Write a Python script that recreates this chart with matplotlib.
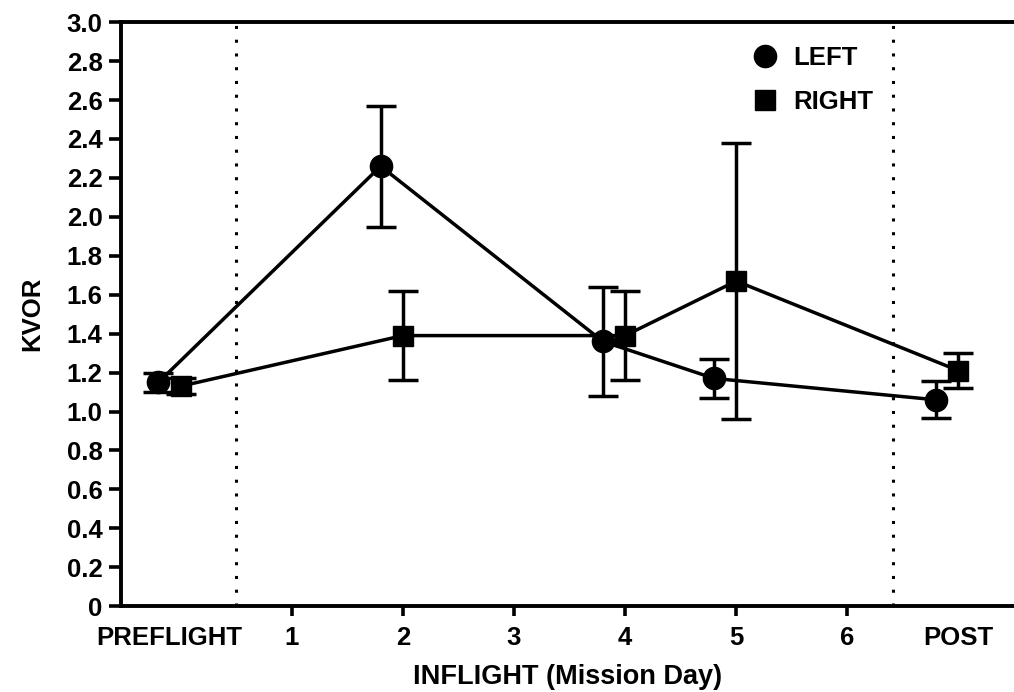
import matplotlib.pyplot as plt
import numpy as np

plt.rcParams['font.family'] = ['Liberation Sans', 'DejaVu Sans']
plt.rcParams['font.weight'] = 'bold'

# mission positions (preflight = 0, days 1-6, post = 7)
rightX = np.array([0, 2, 4, 5, 7])
leftX = rightX - 0.2

leftY = np.array([1.15, 2.26, 1.36, 1.17, 1.06])
leftErr = np.array([0.05, 0.31, 0.28, 0.10, 0.095])

rightY = np.array([1.13, 1.39, 1.39, 1.67, 1.21])
rightErr = np.array([0.04, 0.23, 0.23, 0.71, 0.09])

xTickPos = [-0.1, 1, 2, 3, 4, 5, 6, 7]
xTickLabels = ['PREFLIGHT', '1', '2', '3', '4', '5', '6', 'POST']
yTicks = np.arange(0, 3.01, 0.2)
yTickLabels = ['0'] + ['%.1f' % v for v in yTicks[1:]]

fig = plt.figure(figsize=(10.14, 6.92), dpi=100)
ax = fig.add_axes([0.119, 0.124, 0.881, 0.844])

ax.axvline(0.5, color='black', linestyle=(0, (1, 3.5)), linewidth=2.2)
ax.axvline(6.41, color='black', linestyle=(0, (1, 3.5)), linewidth=2.2)

ax.errorbar(leftX, leftY, yerr=leftErr, color='black', marker='o', markersize=16,
            linewidth=2.5, elinewidth=2.5, capsize=11, capthick=2.5, label='LEFT')
ax.errorbar(rightX, rightY, yerr=rightErr, color='black', marker='s', markersize=15,
            linewidth=2.5, elinewidth=2.5, capsize=11, capthick=2.5, label='RIGHT')

ax.set_xlim(-0.54, 7.5)
ax.set_ylim(0, 3.0)
ax.set_xticks(xTickPos)
ax.set_xticklabels(xTickLabels, fontsize=18.5, fontweight='bold')
ax.set_yticks(yTicks)
ax.set_yticklabels(yTickLabels, fontsize=18.5, fontweight='bold')
ax.tick_params(axis='y', direction='out', length=9, width=2.6, pad=4)
ax.tick_params(axis='x', direction='out', length=7, width=2.6, pad=7)
ticks = ax.xaxis.get_major_ticks()
ticks[0].tick1line.set_visible(False)
ticks[-1].tick1line.set_visible(False)

for side in ['left', 'bottom', 'top']:
    ax.spines[side].set_linewidth(2.8)
ax.spines['right'].set_visible(False)

ax.set_ylabel('KVOR', fontsize=18.5, fontweight='bold', labelpad=16)
ax.set_xlabel('INFLIGHT (Mission Day)', fontsize=19.5, fontweight='bold', labelpad=10)

handles, labels = ax.get_legend_handles_labels()
handles = [h[0] for h in handles]
ax.legend(handles, labels, loc='upper left', bbox_to_anchor=(0.678, 0.998), frameon=False,
          handletextpad=0.5, labelspacing=0.75, handlelength=1.2,
          prop={'weight': 'bold', 'size': 18.5})
for h in ax.get_legend().legend_handles:
    h.set_linestyle('none')

fig.savefig('out.png', dpi=100)
